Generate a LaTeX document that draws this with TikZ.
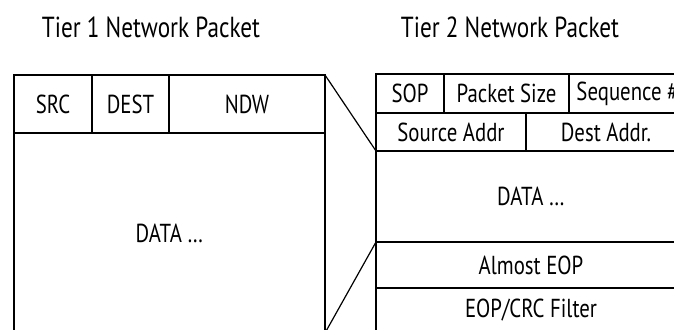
\documentclass[tikz,border=0pt]{standalone}
\usepackage{fontspec}
\setmainfont{PT Sans}[FakeStretch=0.8]
\usepackage{tikz}
\usetikzlibrary{positioning}

\tikzstyle{cell} = [rectangle, draw=black, line width=1.4pt, inner sep=0pt, outer sep=0pt]
\tikzstyle{title} = [font=\fontsize{29}{34}\selectfont]
\tikzstyle{link} = [line width=1.2pt]

\begin{document}
\begin{tikzpicture}[x=1pt, y=-1pt, node distance=0pt, font=\fontsize{26}{30}\selectfont]
\clip (0,0) rectangle (674,329);

\node (tier1) [title] at (151,27) {Tier 1 Network Packet};
\node (tier2) [title] at (510,27) {Tier 2 Network Packet};

% tier 1 packet
\node (src) [cell, minimum width=78, minimum height=58, anchor=north west] at (14,75) {SRC};
\node (dest) [cell, minimum width=77, minimum height=58, right=of src] {DEST};
\node (ndw) [cell, minimum width=156, minimum height=58, right=of dest] {NDW};
\node (data1) [cell, minimum width=311, minimum height=200, anchor=north west] at (src.south west) {DATA \ldots};

% tier 2 packet
\node (sop) [cell, minimum width=68, minimum height=39, anchor=north west] at (376,74) {SOP};
\node (psize) [cell, minimum width=125, minimum height=39, right=of sop] {Packet Size};
\node (seq) [cell, minimum width=117, minimum height=39, right=of psize] {Sequence \#};
\node (srcaddr) [cell, minimum width=150, minimum height=38, anchor=north west] at (sop.south west) {Source Addr};
\node (dstaddr) [cell, minimum width=160, minimum height=38, right=of srcaddr] {Dest Addr.};
\node (data2) [cell, minimum width=310, minimum height=91, anchor=north west] at (srcaddr.south west) {DATA \ldots};
\node (almost) [cell, minimum width=310, minimum height=46, anchor=north west] at (data2.south west) {Almost EOP};
\node (crc) [cell, minimum width=310, minimum height=45, anchor=north west] at (almost.south west) {EOP/CRC Filter};

\draw [link] (ndw.north east) -- (srcaddr.south west);
\draw [link] (data1.south east) -- (almost.north west);

\end{tikzpicture}
\end{document}
